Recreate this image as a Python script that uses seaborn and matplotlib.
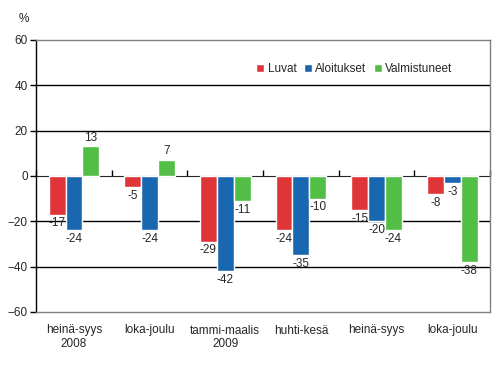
import matplotlib
matplotlib.use("Agg")
import matplotlib.pyplot as plt
import seaborn as sns
import pandas as pd

# 四半期ごとの前年同期比変化（%）
periods = ["2008Q3", "2008Q4", "2009Q1", "2009Q2", "2009Q3", "2009Q4"]
tick_labels = ["heinä-syys\n2008", "loka-joulu", "tammi-maalis\n2009",
               "huhti-kesä", "heinä-syys", "loka-joulu"]
series_names = ["Luvat", "Aloitukset", "Valmistuneet"]
luvat = [-17, -5, -29, -24, -15, -8]
aloitukset = [-24, -24, -42, -35, -20, -3]
valmistuneet = [13, 7, -11, -10, -24, -38]
colors = ["#DF3539", "#1A67B1", "#52BE45"]

rows = []
for name, vals in zip(series_names, [luvat, aloitukset, valmistuneet]):
    for p, v in zip(periods, vals):
        rows.append({"period": p, "series": name, "value": v})
df = pd.DataFrame(rows)

sns.set_style("white")
plt.rcParams['font.family'] = ['Liberation Sans', 'DejaVu Sans']
FS = 8.5

fig = plt.figure(figsize=(4.95, 3.84), dpi=100)
ax = fig.add_axes([0.073, 0.1875, 0.917, 0.7085])

sns.barplot(data=df, x="period", y="value", hue="series", order=periods,
            hue_order=series_names, palette=colors, width=0.67, gap=0,
            saturation=1, ax=ax, legend=True, zorder=2)

for cont in ax.containers:
    ax.bar_label(cont, fmt="%d", padding=2, fontsize=FS)

ax.set_ylim(-60, 60)
ax.set_xlim(-0.5, len(periods) - 0.5)
ax.set_yticks(range(-60, 61, 20))
ax.set_xticks(range(len(periods)))
ax.set_xticklabels(tick_labels, fontsize=FS)
ax.tick_params(axis="x", length=0, pad=9)
ax.tick_params(axis="y", length=4, width=1, direction="out", left=True,
               labelsize=FS, pad=2, color="black")
ax.set_xlabel("")
ax.set_ylabel("")

# 補助線
for y in [-40, -20, 20, 40]:
    ax.axhline(y, color="black", linewidth=1, zorder=1)

for s in ["top", "right", "bottom"]:
    ax.spines[s].set_color("#808080")
    ax.spines[s].set_linewidth(1)
ax.spines["left"].set_color("black")
ax.spines["left"].set_linewidth(1)

# ゼロ線と区切り目盛り
sec = ax.secondary_xaxis(0.5)
sec.set_xticks([i + 0.5 for i in range(-1, len(periods))])
sec.set_xticklabels([])
sec.tick_params(length=4, width=1, direction="out", color="black")
sec.spines["bottom"].set_color("black")
sec.spines["bottom"].set_linewidth(1)

leg = ax.legend(loc="center right", bbox_to_anchor=(0.928, 0.893), ncol=3,
                frameon=False, fontsize=FS, handlelength=0.7, handleheight=0.7,
                handletextpad=0.3, columnspacing=0.6, borderaxespad=0)

fig.text(24 / 495, 1 - 19 / 384, "%", fontsize=FS, ha="center", va="center")

fig.savefig("out.png", dpi=100)
